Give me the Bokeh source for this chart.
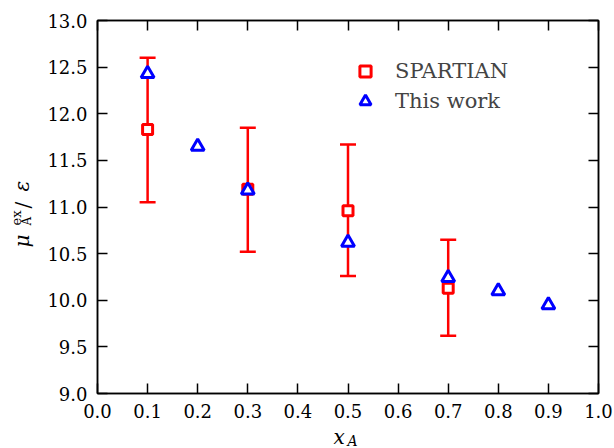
import math
from bokeh.plotting import figure
from bokeh.models import (ColumnDataSource, Whisker, TeeHead, Range1d, LinearAxis,
                          FixedTicker, NumeralTickFormatter, CustomJSTickFormatter,
                          Legend, LegendItem)
from bokeh.core.properties import value
from bokeh.embed import file_html
from bokeh.resources import INLINE

# ---- data ----
spartian_x = [0.1, 0.3, 0.5, 0.7]
spartian_y = [11.83, 11.19, 10.96, 10.13]
spartian_upper = [12.60, 11.85, 11.67, 10.65]
spartian_lower = [11.05, 10.52, 10.26, 9.62]

thiswork_x = [0.1, 0.2, 0.3, 0.5, 0.7, 0.8, 0.9]
thiswork_y = [12.43, 11.65, 11.18, 10.62, 10.24, 10.10, 9.95]

x_ticks = [0.0, 0.1, 0.2, 0.3, 0.4, 0.5, 0.6, 0.7, 0.8, 0.9, 1.0]
y_ticks = [9.0, 9.5, 10.0, 10.5, 11.0, 11.5, 12.0, 12.5, 13.0]

SERIF = "DejaVu Serif"

p = figure(width=614, height=448, frame_width=501, frame_height=373,
           x_range=Range1d(0, 1), y_range=Range1d(9, 13),
           output_backend="svg", toolbar_location=None,
           min_border_left=97, min_border_right=16, min_border_top=20, min_border_bottom=55)
p.xgrid.visible = False
p.ygrid.visible = False
p.outline_line_color = "black"
p.outline_line_width = 1.5
p.background_fill_color = "white"
p.border_fill_color = "white"

def style_axis(ax, ticks, show_labels, standoff=9):
    ax.ticker = FixedTicker(ticks=ticks)
    ax.major_tick_in = 10
    ax.major_tick_out = 0
    ax.minor_tick_in = 0
    ax.minor_tick_out = 0
    ax.major_tick_line_color = "black"
    ax.major_tick_line_width = 1.5
    ax.axis_line_color = "black"
    ax.axis_line_width = 1.5
    ax.major_label_text_font = SERIF
    ax.major_label_text_color = "black"
    if show_labels:
        ax.formatter = NumeralTickFormatter(format="0.0")
        ax.major_label_text_font_size = "18px"
        ax.major_label_standoff = standoff
    else:
        ax.formatter = CustomJSTickFormatter(code="return ''")
        ax.major_label_standoff = 0

style_axis(p.xaxis[0], x_ticks, True, 10)
style_axis(p.yaxis[0], y_ticks, True, 10)
top_ax = LinearAxis()
right_ax = LinearAxis()
style_axis(top_ax, x_ticks, False)
style_axis(right_ax, y_ticks, False)
p.add_layout(top_ax, "above")
p.add_layout(right_ax, "right")

src_s = ColumnDataSource(dict(x=spartian_x, y=spartian_y, upper=spartian_upper, lower=spartian_lower))
src_t = ColumnDataSource(dict(x=thiswork_x, y=thiswork_y))

whisk = Whisker(source=src_s, base="x", upper="upper", lower="lower",
                line_color="#ff0000", line_width=2.5,
                upper_head=TeeHead(size=16, line_color="#ff0000", line_width=2.5),
                lower_head=TeeHead(size=16, line_color="#ff0000", line_width=2.5))
p.add_layout(whisk)

sq = p.scatter("x", "y", source=src_s, marker="square", size=10, line_width=3,
               line_color="#ff0000", fill_color="white")
tri = p.scatter("x", "y", source=src_t, marker="triangle", size=13, line_width=3,
                line_color="#0000ff", fill_color="white")

legend = Legend(items=[LegendItem(label="SPARTIAN", renderers=[sq]),
                       LegendItem(label="This work", renderers=[tri])],
                location=(254, 278), padding=0, margin=0, spacing=2,
                glyph_width=28, glyph_height=28, label_height=21, label_standoff=16,
                label_text_font=SERIF, label_text_font_size="21px",
                border_line_color=None, background_fill_alpha=0)
p.add_layout(legend)

# ---- axis titles: text pieces anchored at the frame centre, moved by pixel offsets ----
cx, cy = 0.5, 11.0
def piece(t, dx, dy, size, style, angle=0.0):
    p.text(x=[cx], y=[cy], text=[t], x_offset=dx, y_offset=dy, angle=angle,
           text_font=value(SERIF), text_font_size=size, text_font_style=style,
           text_color="black", text_align="left", text_baseline="alphabetic",
           level="overlay")

# x_A
piece("x", -14.5, 229.5, "20px", "italic")
piece("A", -0.5, 233.5, "14px", "italic")

# mu_A^ex / epsilon, rotated
a = math.pi / 2
piece("μ", -326.5, 40.5, "20px", "italic", a)
piece("ex", -331.5, 18.5, "13px", "normal", a)
piece("A", -321.0, 18.5, "12px", "normal", a)
piece("/", -325.5, 1.5, "20px", "normal", a)
piece("ε", -326.5, -15.5, "20px", "italic", a)

open("out.html", "w").write(file_html(p, INLINE))
